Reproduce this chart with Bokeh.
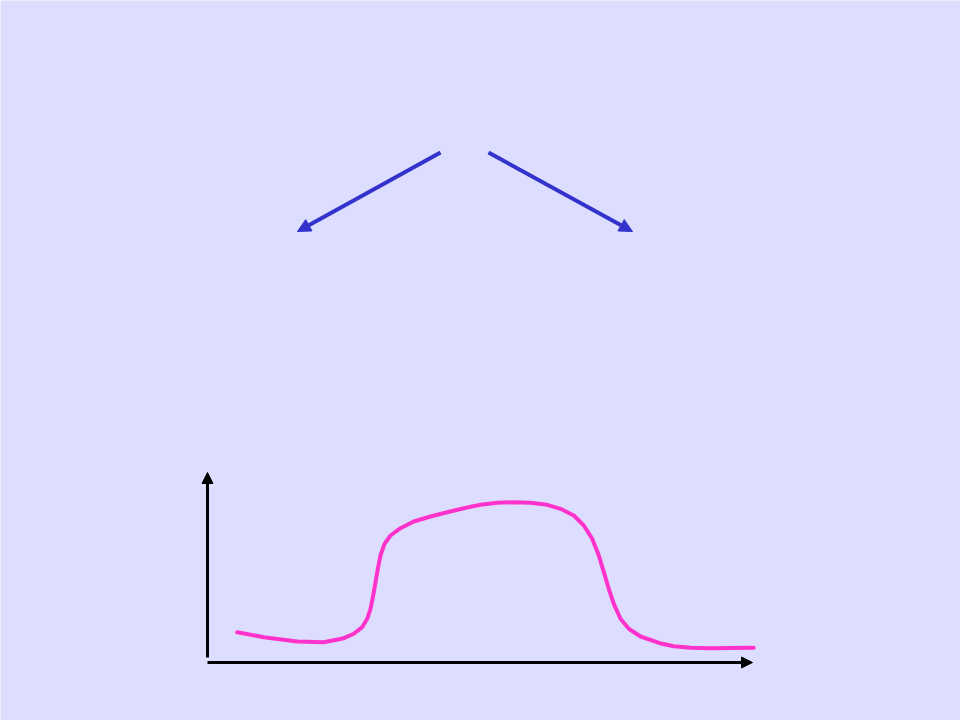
from bokeh.plotting import figure
from bokeh.models import Range1d, Arrow, NormalHead
from bokeh.embed import file_html
from bokeh.resources import INLINE

# ---- data (chart units: x axis 0..10, y axis 0..10) ----
curve_x = [0.545, 1.033, 1.646, 2.134, 2.501, 2.684, 2.839, 2.930, 2.991, 3.040,
           3.083, 3.125, 3.174, 3.248, 3.358, 3.541, 3.785, 4.092, 4.398, 4.703,
           5.009, 5.316, 5.620, 5.927, 6.233, 6.477, 6.721, 6.905, 7.059, 7.180,
           7.272, 7.363, 7.455, 7.578, 7.730, 7.945, 8.299, 8.556, 8.862, 9.229,
           9.596, 10.024]
curve_y = [1.595, 1.332, 1.105, 1.068, 1.279, 1.511, 1.858, 2.300, 2.826, 3.526,
           4.226, 4.932, 5.632, 6.247, 6.684, 7.068, 7.421, 7.684, 7.911, 8.121,
           8.300, 8.405, 8.437, 8.405, 8.300, 8.089, 7.737, 7.211, 6.511, 5.632,
           4.753, 3.879, 3.089, 2.300, 1.774, 1.368, 1.016, 0.858, 0.779, 0.753,
           0.763, 0.774]

# diagram arrows (start x, start y, end x, end y)
branch_left = [4.275, 26.842, 1.651, 22.684]
branch_right = [5.156, 26.842, 7.798, 22.684]
x_axis_line = [0.0, 0.0, 10.0, 0.0]
y_axis_line = [0.0, 0.263, 0.0, 10.0]

# ---- layout ----
W, H = 960, 720
PAGE_OFF = 0
ORIGIN_PX = (207, 662)
PX_PER_X = 54.5
PX_PER_Y = 19.0
BG = "#DDDDFF"

x0 = (PAGE_OFF - ORIGIN_PX[0]) / PX_PER_X
x1 = (PAGE_OFF + W - ORIGIN_PX[0]) / PX_PER_X
y0 = (ORIGIN_PX[1] - (PAGE_OFF + H)) / PX_PER_Y
y1 = (ORIGIN_PX[1] - PAGE_OFF) / PX_PER_Y

p = figure(width=W, height=H, output_backend="svg", toolbar_location=None,
           x_range=Range1d(x0, x1), y_range=Range1d(y0, y1),
           min_border=0, background_fill_color=BG, border_fill_color=BG,
           outline_line_color=None)
p.xaxis.visible = False
p.yaxis.visible = False
p.grid.visible = False

p.line(curve_x, curve_y, line_color="#FF33CC", line_width=4, line_join="round", line_cap="round")

def add_arrow(seg, color, width, size):
    head = NormalHead(size=size, fill_color=color, line_color=color, line_width=1)
    p.add_layout(Arrow(end=head, x_start=seg[0], y_start=seg[1], x_end=seg[2], y_end=seg[3],
                       line_color=color, line_width=width))

add_arrow(branch_left, "#3333CC", 4, 13)
add_arrow(branch_right, "#3333CC", 4, 13)
add_arrow(x_axis_line, "#000000", 3, 11)
add_arrow(y_axis_line, "#000000", 3, 11)

open("out.html", "w").write(file_html(p, INLINE))
